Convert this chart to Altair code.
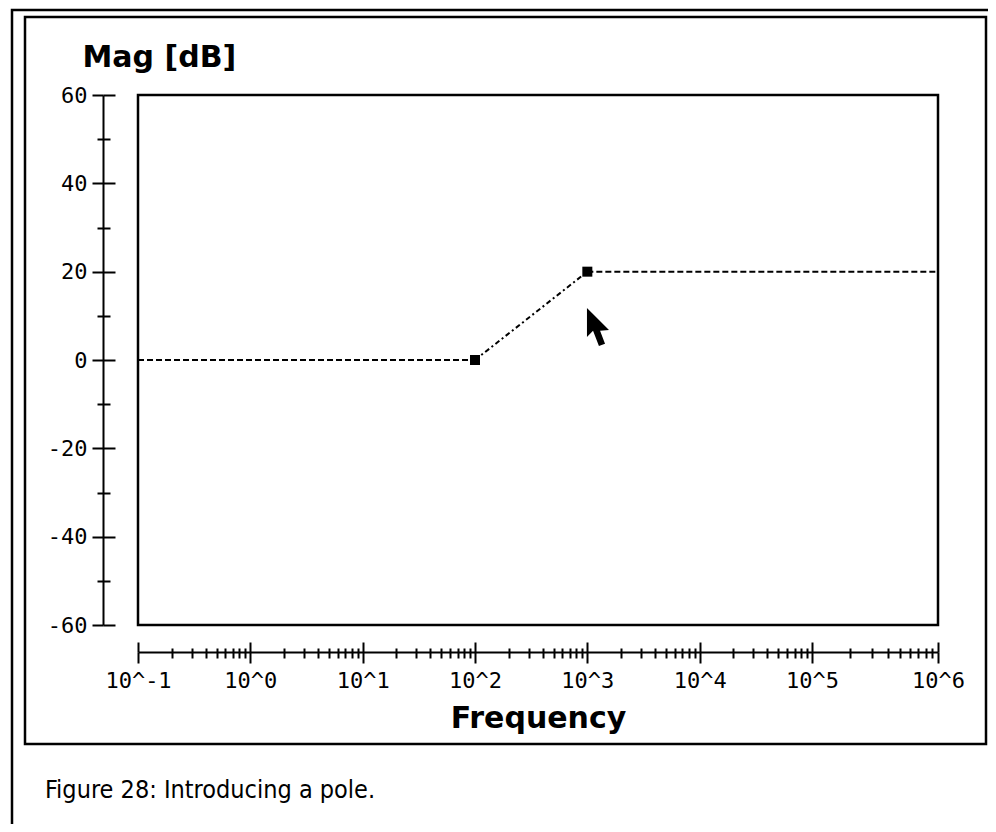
import altair as alt
import pandas as pd

# ---- data ----
freq_pts = [0.1, 100, 1000, 1e6]          # break points of the asymptotic curve
mag_pts = [0, 0, 20, 20]                  # dB
corner_freq = [100, 1000]                 # square markers
corner_mag = [0, 20]
cursor_freq = [1220]                      # mouse pointer in the screenshot
cursor_mag = [7.5]
caption = ["Figure 28: Introducing a pole."]

decade_ticks = [0.1, 1, 10, 100, 1e3, 1e4, 1e5, 1e6]
minor_ticks = [k * 10.0 ** d for d in range(-1, 6) for k in range(2, 10)]
y_major = [-60, -40, -20, 0, 20, 40, 60]
y_minor = [-50, -30, -10, 10, 30, 50]

flat_df = pd.DataFrame({
    "freq": [freq_pts[0], freq_pts[1], freq_pts[2], freq_pts[3]],
    "mag": [mag_pts[0], mag_pts[1], mag_pts[2], mag_pts[3]],
    "seg": ["low", "low", "high", "high"],
})
slope_df = pd.DataFrame({"freq": freq_pts[1:3], "mag": mag_pts[1:3]})
corner_df = pd.DataFrame({"freq": corner_freq, "mag": corner_mag})
cursor_df = pd.DataFrame({"freq": cursor_freq, "mag": cursor_mag})
box_df = pd.DataFrame({"x0": [freq_pts[0]], "x1": [freq_pts[-1]], "y0": [-60], "y1": [60]})
caption_df = pd.DataFrame({"caption": caption})

MONO = "DejaVu Sans Mono"
BOLD = "DejaVu Sans"
CAP = "DejaVu Sans Condensed, Liberation Sans Narrow, DejaVu Sans"

xscale = alt.Scale(type="log", domain=[0.1, 1e5, 1e6], range=[113, 787, 913], nice=False)
yscale = alt.Scale(domain=[-60, 60], range=[608, 78], nice=False, zero=False)

common_tick = dict(tickColor="black", tickWidth=2, grid=False)


def x_axis(values, orient, offset, size, main=False):
    kw = dict(orient=orient, offset=offset, values=values, tickSize=size, **common_tick)
    if main:
        kw.update(domain=True, domainColor="black", domainWidth=2,
                  labels=True, labelExpr="'10^' + round(log(datum.value)/LN10)",
                  labelFont=MONO, labelFontSize=22, labelColor="black",
                  labelPadding=7, labelOverlap=False, labelFlush=False,
                  title="Frequency", titleFont=BOLD, titleFontSize=30,
                  titleFontWeight="bold", titleColor="black",
                  titleX=513, titleY=75, titleAlign="center",
                  titleBaseline="alphabetic")
    else:
        kw.update(domain=False, labels=False, title=None)
    return alt.Axis(**kw)


def y_axis(values, orient, offset, size, main=False):
    kw = dict(orient=orient, offset=offset, values=values, tickSize=size, **common_tick)
    if main:
        kw.update(domain=True, domainColor="black", domainWidth=2,
                  labels=True, labelExpr="'' + datum.value",
                  labelFont=MONO, labelFontSize=22, labelColor="black",
                  labelPadding=5, labelOverlap=False, labelFlush=False,
                  title="Mag [dB]", titleFont=BOLD, titleFontSize=30,
                  titleFontWeight="bold", titleColor="black", titleAngle=0,
                  titleX=-21, titleY=49, titleAlign="left",
                  titleBaseline="alphabetic")
    else:
        kw.update(domain=False, labels=False, title=None)
    return alt.Axis(**kw)


# outer window frame (decoration)
outer = alt.Chart(caption_df).mark_rect(filled=False, stroke="black", strokeWidth=2.5).encode(
    x=alt.value(-13), x2=alt.value(975), y=alt.value(-7), y2=alt.value(812)
)

# plot box drawn from the data extents, carrying the main axes
box = alt.Chart(box_df).mark_rect(filled=False, stroke="black", strokeWidth=2.5).encode(
    x=alt.X("x0:Q", scale=xscale, axis=x_axis(decade_ticks, "bottom", -92, 11, main=True)),
    x2="x1:Q",
    y=alt.Y("y0:Q", scale=yscale, axis=y_axis(y_major, "left", -78, 11, main=True)),
    y2="y1:Q",
)

def ghost(xax, yax):
    return alt.Chart(corner_df).mark_point(opacity=0).encode(
        x=alt.X("freq:Q", scale=xscale, axis=xax),
        y=alt.Y("mag:Q", scale=yscale, axis=yax),
    )

ax2 = ghost(x_axis(minor_ticks, "bottom", -92, 6), y_axis(y_minor, "left", -78, 6))
ax3 = ghost(x_axis(decade_ticks, "top", -635, 10), y_axis(y_major, "right", -883, 12))
ax4 = ghost(x_axis(minor_ticks, "top", -635, 4), y_axis(y_minor, "right", -883, 7))

flat = alt.Chart(flat_df).mark_line(strokeDash=[6, 3], strokeWidth=2, color="black").encode(
    x=alt.X("freq:Q", scale=xscale, axis=None),
    y=alt.Y("mag:Q", scale=yscale, axis=None),
    detail="seg:N",
)
slope = alt.Chart(slope_df).mark_line(strokeDash=[5, 3, 2, 3], strokeWidth=2, color="black").encode(
    x=alt.X("freq:Q", scale=xscale, axis=None),
    y=alt.Y("mag:Q", scale=yscale, axis=None),
)
corners = alt.Chart(corner_df).mark_square(size=100, color="black", opacity=1).encode(
    x=alt.X("freq:Q", scale=xscale, axis=None),
    y=alt.Y("mag:Q", scale=yscale, axis=None),
)
arrow_path = "M-0.53,-1 L-0.53,0.53 L-0.21,0.21 L0.1,1 L0.42,0.89 L0.16,0.21 L0.63,0.16 Z"
cursor = alt.Chart(cursor_df).mark_point(shape=arrow_path, size=1444, filled=True,
                                         color="black", opacity=1).encode(
    x=alt.X("freq:Q", scale=xscale, axis=None),
    y=alt.Y("mag:Q", scale=yscale, axis=None),
)

cap = alt.Chart(caption_df).mark_text(align="left", baseline="alphabetic", font=CAP,
                                      fontSize=25, color="black").encode(
    x=alt.value(20), y=alt.value(781), text="caption:N"
)

chart = alt.layer(outer, box, ax2, ax3, ax4, flat, slope, corners, cursor, cap).resolve_axis(
    x="independent", y="independent"
).properties(
    width=961, height=727,
    autosize=alt.AutoSizeParams(type="none"),
    padding={"left": 17, "top": 9, "right": 2, "bottom": 80},
).configure(
    background="white",
    view=alt.ViewConfig(stroke="black", strokeWidth=2.5),
)

chart.save("out.html", embed_options={"renderer": "svg", "actions": False})
